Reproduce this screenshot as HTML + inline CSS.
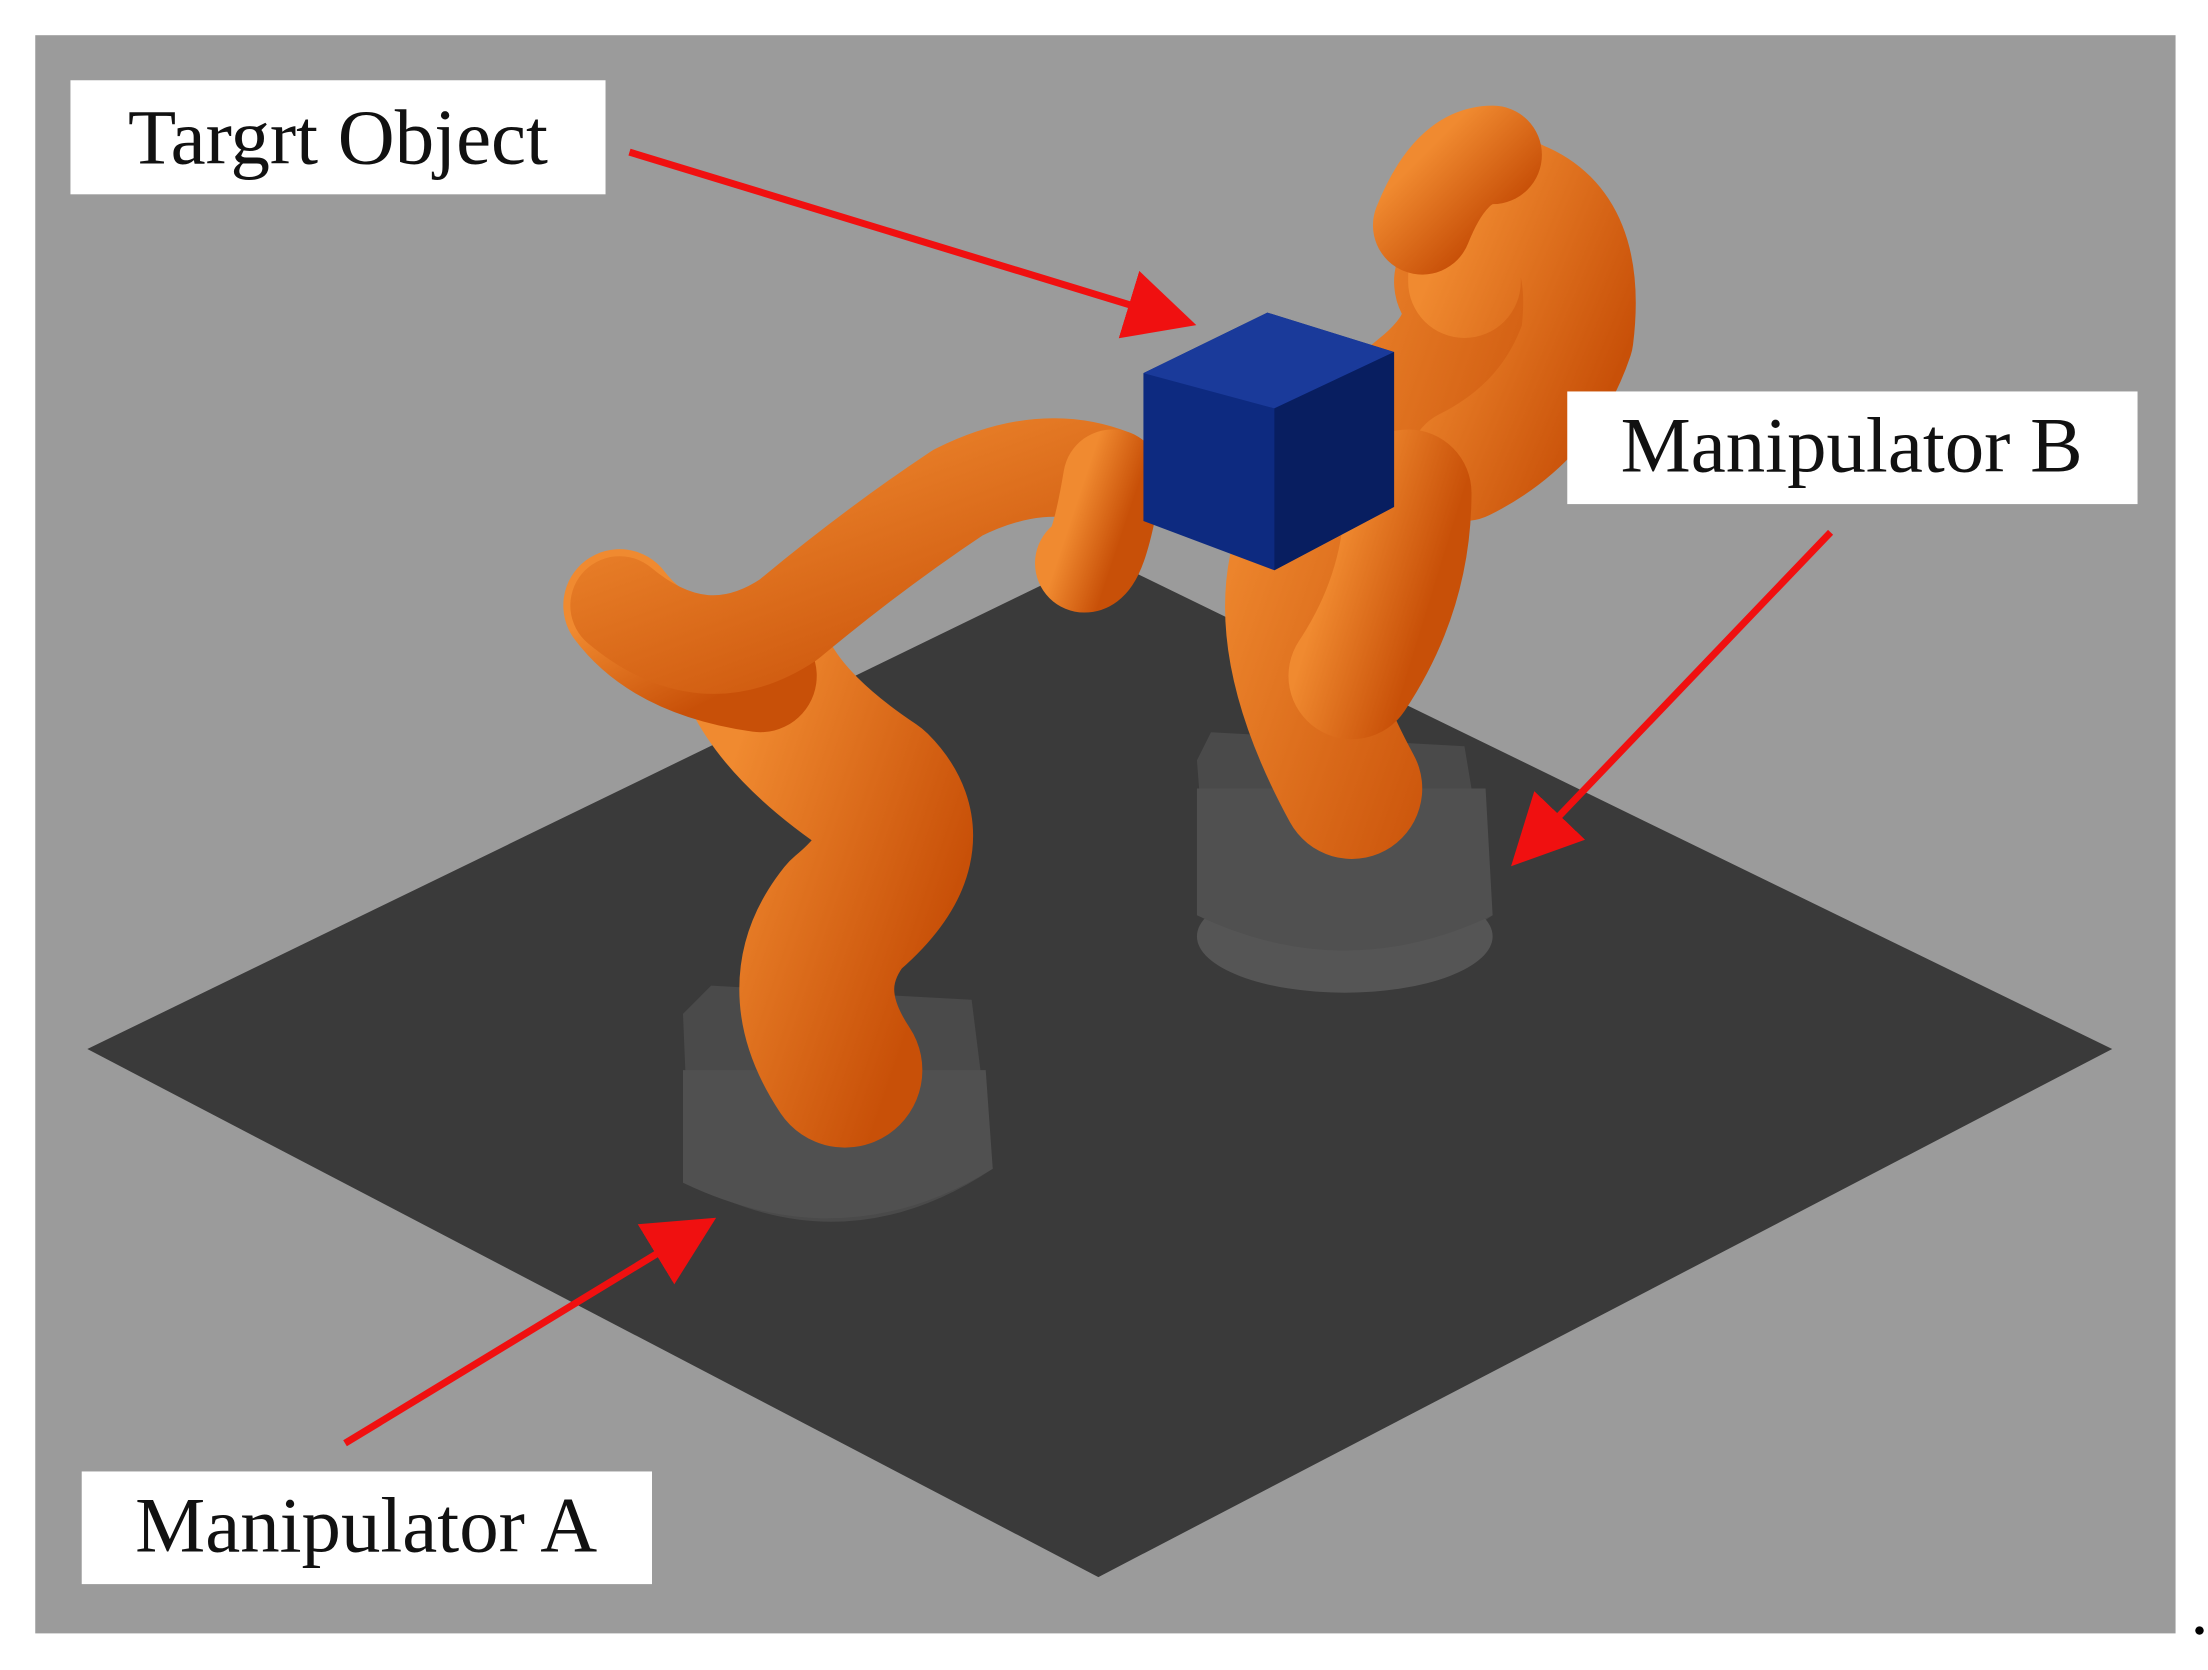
<!DOCTYPE html>
<html><head><meta charset="utf-8"><style>html,body{margin:0;padding:0;background:#fff}svg{display:block}</style></head><body>
<svg width="2208" height="1670" viewBox="0 0 1568 1186" xmlns="http://www.w3.org/2000/svg">
<defs>
<marker id="ah" markerWidth="10" markerHeight="10" refX="8" refY="5" orient="auto" markerUnits="strokeWidth"><path d="M0,0 L10,5 L0,10 z" fill="#f01010"/></marker>
<linearGradient id="og" x1="0" y1="0" x2="1" y2="1"><stop offset="0" stop-color="#f08a30"/><stop offset="1" stop-color="#c85008"/></linearGradient>
</defs>
<rect x="0" y="0" width="1568" height="1186" fill="#fff"/>
<rect x="25" y="25" width="1520" height="1135" fill="#9b9b9b"/>
<polygon points="62,745 782,395 1500,745 780,1120" fill="#3a3a3a"/>
<path d="M850,540 L860,520 L1040,530 L1060,650 Q960,720 860,670 Z" fill="#4a4a4a"/>
<ellipse cx="955" cy="665" rx="105" ry="40" fill="#555"/>
<path d="M850,560 L1055,560 L1060,650 Q955,700 850,650 Z" fill="#505050"/>
<path d="M485,720 L505,700 L690,710 L705,830 Q600,900 490,840 Z" fill="#4a4a4a"/>
<path d="M485,760 L700,760 L705,830 Q600,895 485,840 Z" fill="#505050"/>
<g fill="none" stroke="url(#og)" stroke-linecap="round" stroke-linejoin="round">
<path d="M960,560 Q900,450 930,380 Q960,320 1010,280 Q1060,240 1040,200" stroke-width="100"/>
<path d="M1040,200 Q1040,120 1080,140 Q1130,160 1120,240 Q1100,300 1040,330" stroke-width="80"/>
<path d="M1010,160 Q1030,110 1060,110" stroke-width="70"/>
<path d="M960,480 Q1000,420 1000,350" stroke-width="90"/>
</g>
<g fill="none" stroke="url(#og)" stroke-linecap="round" stroke-linejoin="round">
<path d="M600,760 Q560,700 600,650 Q660,600 620,560 Q560,520 540,480" stroke-width="110"/>
<path d="M540,480 Q470,470 440,430" stroke-width="80"/>
<path d="M440,430 Q500,480 560,440 Q620,390 680,350 Q740,320 790,340" stroke-width="70"/>
<path d="M790,340 Q780,400 770,400" stroke-width="70"/>
</g>
<polygon points="812,265 900,222 990,250 990,360 905,405 812,370" fill="#0d2a80"/>
<polygon points="812,265 900,222 990,250 905,290" fill="#1a3a9a"/>
<polygon points="905,290 990,250 990,360 905,405" fill="#081e60"/>
<g stroke="#f01010" stroke-width="5" fill="none" marker-end="url(#ah)">
<line x1="447" y1="108" x2="840" y2="228"/>
<line x1="1300" y1="378" x2="1080" y2="608"/>
<line x1="245" y1="1025" x2="500" y2="870"/>
</g>
<g font-family="'Liberation Serif',serif" font-size="56" fill="#111">
<rect x="50" y="57" width="380" height="81" fill="#fff"/>
<text x="240" y="116" text-anchor="middle">Targrt Object</text>
<rect x="1113" y="278" width="405" height="80" fill="#fff"/>
<text x="1315" y="335" text-anchor="middle">Manipulator B</text>
<rect x="58" y="1045" width="405" height="80" fill="#fff"/>
<text x="260" y="1102" text-anchor="middle">Manipulator A</text>
</g>
<circle cx="1562" cy="1158" r="3" fill="#000"/>
</svg>
</body></html>
